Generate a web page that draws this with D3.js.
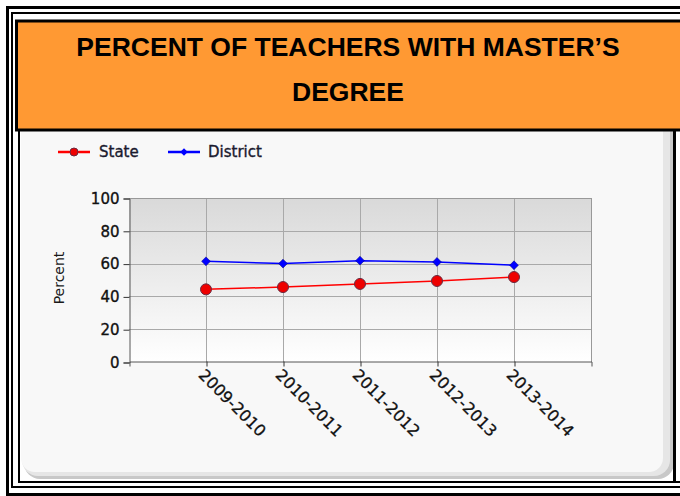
<!DOCTYPE html>
<html><head><meta charset="utf-8">
<script src="https://cdn.jsdelivr.net/npm/d3@7"></script>
<style>html,body{margin:0;padding:0;background:#fff;overflow:hidden}</style>
</head><body>
<svg id="c" width="680" height="496"></svg>
<script>
const categories = ["2009-2010","2010-2011","2011-2012","2012-2013","2013-2014"];
const stateValues = [44.3, 45.7, 47.6, 49.4, 51.8];
const districtValues = [61.4, 60.0, 61.8, 61.0, 59.0];
const yTicks = [0, 20, 40, 60, 80, 100];
const titleLines = ["PERCENT OF TEACHERS WITH MASTER\u2019S", "DEGREE"];
const seriesNames = ["State", "District"];

(function(){
const svg = d3.select("#c");
const defs = svg.append("defs");
const bg = defs.append("linearGradient").attr("id","plotbg").attr("x1",0).attr("y1",0).attr("x2",0).attr("y2",1);
bg.append("stop").attr("offset","0%").attr("stop-color","#d9d9d9");
bg.append("stop").attr("offset","100%").attr("stop-color","#ffffff");

// frames
svg.append("rect").attr("x",0).attr("y",0).attr("width",680).attr("height",496).attr("fill","#fff");
svg.append("rect").attr("x",7.5).attr("y",7.5).attr("width",700).attr("height",487).attr("fill","none").attr("stroke","#000").attr("stroke-width",3);
svg.append("rect").attr("x",12).attr("y",13).attr("width",700).attr("height",474).attr("fill","none").attr("stroke","#000").attr("stroke-width",2);
// panel
svg.append("rect").attr("x",19).attr("y",128).attr("width",700).attr("height",354).attr("fill","#fff").attr("stroke","#000").attr("stroke-width",2);
svg.append("rect").attr("x",24).attr("y",110).attr("width",650).attr("height",369).attr("rx",16).attr("fill","#c8c8c8");
svg.append("rect").attr("x",22).attr("y",110).attr("width",648).attr("height",366).attr("rx",16).attr("fill","#e6e6e6");
svg.append("rect").attr("x",21).attr("y",110).attr("width",642).attr("height",362).attr("rx",14).attr("fill","#f8f8f8");
svg.append("rect").attr("x",673).attr("y",130).attr("width",3).attr("height",352).attr("fill","#000");
// orange title box
svg.append("rect").attr("x",16.5).attr("y",21).attr("width",700).attr("height",109).attr("fill","#ff9933").attr("stroke","#000").attr("stroke-width",3);
svg.append("text").attr("x",348).attr("y",56).attr("text-anchor","middle")
  .attr("font-family","'Liberation Sans', Arial, sans-serif").attr("font-weight","bold").attr("font-size","26.5px").attr("fill","#000")
  .text(titleLines[0]);
svg.append("text").attr("x",348).attr("y",101).attr("text-anchor","middle")
  .attr("font-family","'Liberation Sans', Arial, sans-serif").attr("font-weight","bold").attr("font-size","26.5px").attr("fill","#000")
  .text(titleLines[1]);

// chart
const pL = 129, pR = 591, pT = 198, pB = 362;
const x = d3.scalePoint().domain(categories).range([pL, pR]).padding(1);
const y = d3.scaleLinear().domain([0, 100]).range([pB, pT]);
const font = "'DejaVu Sans', Verdana, sans-serif";

svg.append("rect").attr("x",pL).attr("y",pT).attr("width",pR-pL).attr("height",pB-pT).attr("fill","url(#plotbg)");
// gridlines
svg.append("g").selectAll("line").data(yTicks.filter(d=>d>0)).join("line")
  .attr("x1",pL).attr("x2",pR).attr("y1",d=>Math.round(y(d))+0.5).attr("y2",d=>Math.round(y(d))+0.5)
  .attr("stroke","#a9a9a9").attr("stroke-width",1);
svg.append("g").selectAll("line").data(categories).join("line")
  .attr("x1",d=>Math.round(x(d))+0.5).attr("x2",d=>Math.round(x(d))+0.5).attr("y1",pT).attr("y2",pB)
  .attr("stroke","#a9a9a9").attr("stroke-width",1);
svg.append("line").attr("x1",pR+0.5).attr("x2",pR+0.5).attr("y1",pT).attr("y2",pB).attr("stroke","#999");
svg.append("line").attr("x1",pL).attr("x2",pR).attr("y1",pT+0.5).attr("y2",pT+0.5).attr("stroke","#999");

// y axis
const yAxis = d3.axisLeft(y).tickValues(yTicks).tickSize(6).tickPadding(4);
const gy = svg.append("g").attr("transform",`translate(${pL+0.5},0.5)`).call(yAxis);
gy.select(".domain").attr("stroke","#555");
gy.selectAll(".tick line").attr("stroke","#333");
gy.selectAll(".tick text").attr("font-family",font).attr("font-size","15px").attr("fill","#111")
  .attr("stroke","#111").attr("stroke-width",0.35);

// x axis
const xAxis = d3.axisBottom(x).tickSize(5).tickSizeOuter(5);
const gx = svg.append("g").attr("transform",`translate(0.5,${pB-0.5})`).call(xAxis);
gx.select(".domain").attr("stroke","#555");
gx.selectAll(".tick line").attr("stroke","#333");
gx.selectAll(".tick text").attr("font-family",font).attr("font-size","16px").attr("fill","#111")
  .attr("stroke","#111").attr("stroke-width",0.3)
  .attr("text-anchor","start").attr("transform","translate(-1,6) rotate(45)").attr("x",0).attr("y",0).attr("dy","0.75em");

// y label
svg.append("text").attr("transform","translate(64,278) rotate(-90)").attr("text-anchor","middle")
  .attr("font-family",font).attr("font-size","14px").attr("fill","#1a1a1a").text("Percent");

// lines
const line = d3.line().x((d,i)=>x(categories[i])).y(d=>y(d));
svg.append("path").datum(stateValues).attr("d",line).attr("fill","none").attr("stroke","#ff0000").attr("stroke-width",1.5);
svg.append("path").datum(districtValues).attr("d",line).attr("fill","none").attr("stroke","#0000ff").attr("stroke-width",1.5);
svg.append("g").selectAll("circle").data(stateValues).join("circle")
  .attr("cx",(d,i)=>x(categories[i])).attr("cy",d=>y(d)).attr("r",5.5)
  .attr("fill","#ee0000").attr("stroke","#6a2a40").attr("stroke-width",1);
const diamond = d3.symbol().type(d3.symbolDiamond2).size(50);
svg.append("g").selectAll("path").data(districtValues).join("path")
  .attr("transform",(d,i)=>`translate(${x(categories[i])},${y(d)})`).attr("d",diamond)
  .attr("fill","#0000ff").attr("stroke","#000080").attr("stroke-width",0.5);

// legend
const ly = 152;
svg.append("line").attr("x1",58).attr("x2",90).attr("y1",ly).attr("y2",ly).attr("stroke","#ff0000").attr("stroke-width",2.5);
svg.append("circle").attr("cx",74).attr("cy",ly).attr("r",4).attr("fill","#ee0000").attr("stroke","#6a2a40");
svg.append("text").attr("x",99).attr("y",ly+5).attr("font-family",font).attr("font-size","15px").attr("fill","#1a1a2e")
  .attr("stroke","#1a1a2e").attr("stroke-width",0.35).text(seriesNames[0]);
svg.append("line").attr("x1",168).attr("x2",200).attr("y1",ly).attr("y2",ly).attr("stroke","#0000ff").attr("stroke-width",2.5);
svg.append("path").attr("transform",`translate(184,${ly})`).attr("d",d3.symbol().type(d3.symbolDiamond2).size(36)).attr("fill","#0000ff");
svg.append("text").attr("x",208).attr("y",ly+5).attr("font-family",font).attr("font-size","15px").attr("fill","#1a1a2e")
  .attr("stroke","#1a1a2e").attr("stroke-width",0.35).text(seriesNames[1]);
})();
</script>
</body></html>
